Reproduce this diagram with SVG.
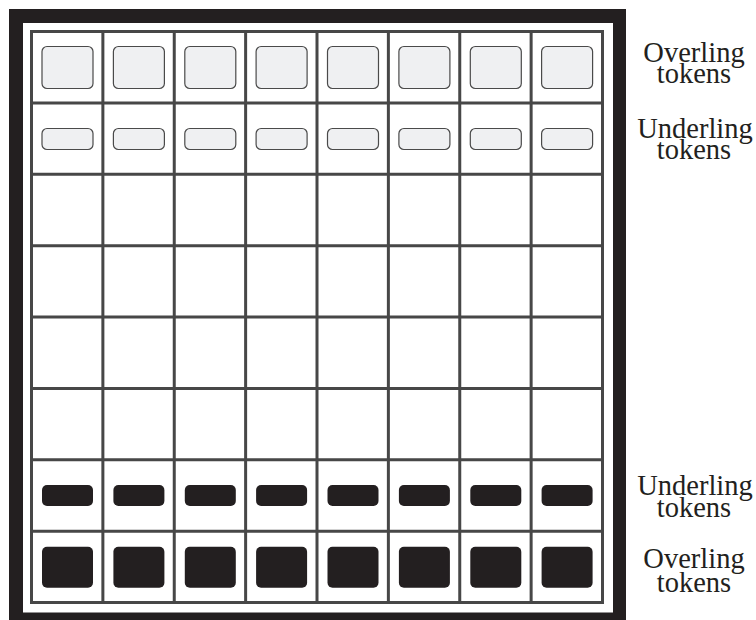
<svg xmlns="http://www.w3.org/2000/svg" width="756" height="620" viewBox="0 0 756 620">
<defs>
<style>
.grid{stroke:#474747;stroke-width:3;fill:none}
.lt{fill:#eff0f2;stroke:#4a4a4a;stroke-width:1.2}
.dk{fill:#231f20}
.lbl{font-family:"Liberation Serif","Times New Roman",serif;font-size:28.5px;fill:#231f20;text-anchor:middle}
</style>
<rect id="tOL" class="lt" width="51" height="42" rx="5"/>
<rect id="tUL" class="lt" width="51" height="21" rx="5"/>
<rect id="tUD" class="dk" width="51" height="21" rx="5"/>
<rect id="tOD" class="dk" width="51" height="41" rx="5"/>
</defs>
<rect width="756" height="620" fill="#ffffff"/>
<g id="board">
<rect x="9" y="9" width="617" height="620" fill="#231f20"/>
<rect x="23" y="23" width="590" height="589.5" fill="#ffffff"/>
</g>
<g id="grid" class="grid">
<rect x="31.5" y="31.5" width="571" height="571"/>
<path d="M102.875 31.5V602.5M174.25 31.5V602.5M245.625 31.5V602.5M317 31.5V602.5M388.375 31.5V602.5M459.75 31.5V602.5M531.125 31.5V602.5"/>
<path d="M31.5 102.875H602.5M31.5 174.25H602.5M31.5 245.625H602.5M31.5 317H602.5M31.5 388.375H602.5M31.5 459.75H602.5M31.5 531.125H602.5"/>
</g>
<g id="overling-light">
<use href="#tOL" x="42" y="46.5"/><use href="#tOL" x="113.4" y="46.5"/><use href="#tOL" x="184.8" y="46.5"/><use href="#tOL" x="256.1" y="46.5"/><use href="#tOL" x="327.5" y="46.5"/><use href="#tOL" x="398.9" y="46.5"/><use href="#tOL" x="470.3" y="46.5"/><use href="#tOL" x="541.6" y="46.5"/>
</g>
<g id="underling-light">
<use href="#tUL" x="42" y="128.5"/><use href="#tUL" x="113.4" y="128.5"/><use href="#tUL" x="184.8" y="128.5"/><use href="#tUL" x="256.1" y="128.5"/><use href="#tUL" x="327.5" y="128.5"/><use href="#tUL" x="398.9" y="128.5"/><use href="#tUL" x="470.3" y="128.5"/><use href="#tUL" x="541.6" y="128.5"/>
</g>
<g id="underling-dark">
<use href="#tUD" x="42" y="485"/><use href="#tUD" x="113.4" y="485"/><use href="#tUD" x="184.8" y="485"/><use href="#tUD" x="256.1" y="485"/><use href="#tUD" x="327.5" y="485"/><use href="#tUD" x="398.9" y="485"/><use href="#tUD" x="470.3" y="485"/><use href="#tUD" x="541.6" y="485"/>
</g>
<g id="overling-dark">
<use href="#tOD" x="42" y="546.7"/><use href="#tOD" x="113.4" y="546.7"/><use href="#tOD" x="184.8" y="546.7"/><use href="#tOD" x="256.1" y="546.7"/><use href="#tOD" x="327.5" y="546.7"/><use href="#tOD" x="398.9" y="546.7"/><use href="#tOD" x="470.3" y="546.7"/><use href="#tOD" x="541.6" y="546.7"/>
</g>
<g id="label-top-overling"><text class="lbl" x="694" y="61.7">Overling</text><text class="lbl" x="694" y="83.3">tokens</text></g>
<g id="label-top-underling"><text class="lbl" x="695" y="137.7">Underling</text><text class="lbl" x="694" y="159.3">tokens</text></g>
<g id="label-bottom-underling"><text class="lbl" x="695" y="495">Underling</text><text class="lbl" x="694" y="517.3">tokens</text></g>
<g id="label-bottom-overling"><text class="lbl" x="694" y="568.3">Overling</text><text class="lbl" x="694" y="591.7">tokens</text></g>
</svg>
